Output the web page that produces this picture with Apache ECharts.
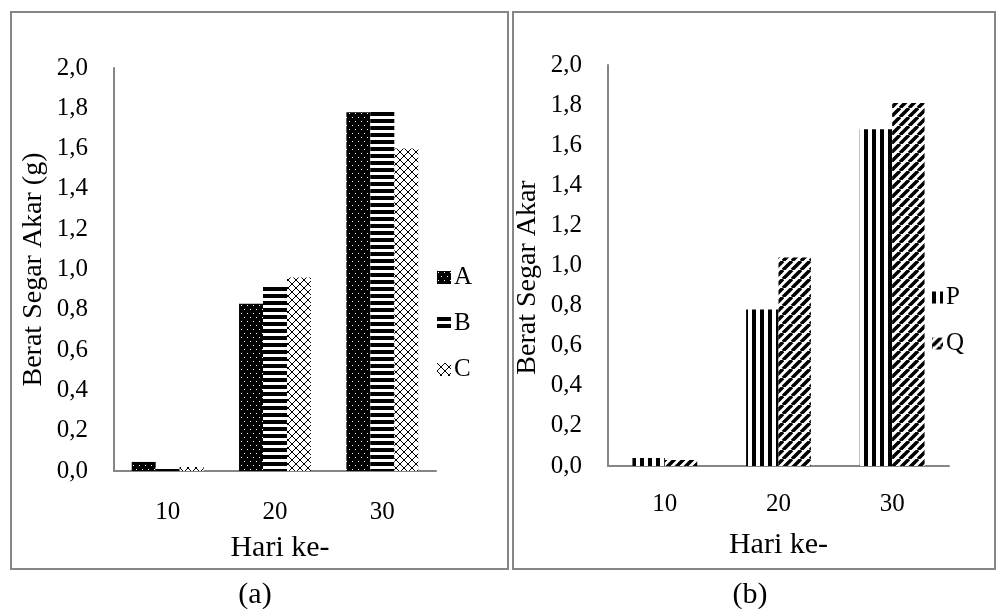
<!DOCTYPE html>
<html><head><meta charset="utf-8">
<script src="https://cdn.jsdelivr.net/npm/echarts@6/dist/echarts.min.js"></script>
<style>html,body{margin:0;padding:0;background:#fff}#c{width:997px;height:612px}</style>
</head><body><div id="c"></div>
<script>
const categories = ['10', '20', '30'];
const seriesA = [0.045, 0.83, 1.78];
const seriesB = [0.02, 0.92, 1.79];
const seriesC = [0.02, 0.96, 1.60];
const seriesP = [0.04, 0.78, 1.68];
const seriesQ = [0.03, 1.04, 1.81];
const namesLeft = ['A', 'B', 'C'];
const namesRight = ['P', 'Q'];
const yTitleLeft = 'Berat Segar Akar (g)';
const yTitleRight = 'Berat Segar Akar';
const xTitle = 'Hari ke-';
const captions = ['(a)', '(b)'];

const FONT = '"Liberation Serif", "Times New Roman", serif';
const AXIS_COLOR = '#868686';

function pat(w, h, draw) {
  const c = document.createElement('canvas');
  c.width = w; c.height = h;
  const g = c.getContext('2d');
  g.fillStyle = '#fff'; g.fillRect(0, 0, w, h);
  draw(g, w, h);
  return { image: c, repeat: 'repeat' };
}
const patA = pat(6, 8, g => { g.fillStyle = '#000'; g.fillRect(0, 0, 6, 8); g.fillStyle = '#fff'; g.fillRect(1, 1, 1, 1); g.fillRect(4, 5, 1, 1); });
const patB = pat(4, 7, g => { g.fillStyle = '#000'; g.fillRect(0, 0, 4, 4); });
const patC = pat(8, 8, g => { g.strokeStyle = '#000'; g.lineWidth = 1; g.beginPath(); g.moveTo(0, 0); g.lineTo(8, 8); g.moveTo(8, 0); g.lineTo(0, 8); g.stroke(); });
const patP = pat(8, 1, g => { g.fillStyle = '#000'; g.fillRect(0, 0, 4, 1); });
const patQ = pat(9, 9, g => { g.strokeStyle = '#000'; g.lineWidth = 3.5; g.beginPath(); g.moveTo(-9, 9); g.lineTo(0, 0); g.moveTo(0, 9); g.lineTo(9, 0); g.moveTo(9, 9); g.lineTo(18, 0); g.stroke(); });

const fmt = v => v.toFixed(1).replace('.', ',');

function xAxis(gridIndex, labelMargin, nameGap, namePad) {
  return {
    type: 'category', gridIndex, data: categories,
    axisTick: { show: false },
    axisLine: { lineStyle: { color: AXIS_COLOR, width: 2 } },
    axisLabel: { fontSize: 25, fontFamily: FONT, color: '#000', margin: labelMargin },
    name: xTitle, nameLocation: 'middle', nameGap,
    nameTextStyle: { fontSize: 30, fontFamily: FONT, color: '#000', padding: namePad }
  };
}
function yAxis(gridIndex, name, nameGap, namePad) {
  return {
    type: 'value', gridIndex, min: 0, max: 2, interval: 0.2,
    splitLine: { show: false },
    axisTick: { show: false },
    axisLine: { show: true, lineStyle: { color: AXIS_COLOR, width: 2 } },
    axisLabel: { fontSize: 25, fontFamily: FONT, color: '#000', margin: 26, formatter: fmt },
    name, nameLocation: 'middle', nameGap,
    nameTextStyle: { fontSize: 28, fontFamily: FONT, color: '#000', padding: namePad }
  };
}

const chart = echarts.init(document.getElementById('c'), null, { renderer: 'canvas' });
chart.setOption({
  backgroundColor: '#fff',
  animation: false,
  grid: [
    { left: 114, top: 68, width: 322, height: 403 },
    { left: 608, top: 65, width: 341, height: 401 }
  ],
  xAxis: [xAxis(0, 29, 62, [0, 0, 0, 10]), xAxis(1, 26, 64, [0, 0, 0, 0])],
  yAxis: [yAxis(0, yTitleLeft, 66, [0, 0, 0, 0]), yAxis(1, yTitleRight, 66, [0, 24, 0, 0])],
  legend: [
    { data: namesLeft, orient: 'vertical', left: 437, top: 265, padding: 0,
      itemWidth: 14, itemHeight: 13, itemGap: 21, icon: 'rect',
      textStyle: { fontSize: 25, fontFamily: FONT, color: '#000', padding: [0, 0, 0, -2] } },
    { data: namesRight, orient: 'vertical', left: 932, top: 285, padding: 0,
      itemWidth: 11, itemHeight: 12, itemGap: 21, icon: 'rect',
      textStyle: { fontSize: 25, fontFamily: FONT, color: '#000', padding: [0, 0, 0, -2] } }
  ],
  series: [
    { name: namesLeft[0], type: 'bar', xAxisIndex: 0, yAxisIndex: 0, data: seriesA, barGap: '0%', barCategoryGap: '33%', itemStyle: { color: patA } },
    { name: namesLeft[1], type: 'bar', xAxisIndex: 0, yAxisIndex: 0, data: seriesB, barGap: '0%', barCategoryGap: '33%', itemStyle: { color: patB } },
    { name: namesLeft[2], type: 'bar', xAxisIndex: 0, yAxisIndex: 0, data: seriesC, barGap: '0%', barCategoryGap: '33%', itemStyle: { color: patC } },
    { name: namesRight[0], type: 'bar', xAxisIndex: 1, yAxisIndex: 1, data: seriesP, barGap: '0%', barCategoryGap: '43%', itemStyle: { color: patP } },
    { name: namesRight[1], type: 'bar', xAxisIndex: 1, yAxisIndex: 1, data: seriesQ, barGap: '0%', barCategoryGap: '43%', itemStyle: { color: patQ } }
  ],
  graphic: [
    { type: 'rect', shape: { x: 11, y: 12, width: 497, height: 557 }, style: { fill: 'none', stroke: AXIS_COLOR, lineWidth: 2 }, silent: true },
    { type: 'rect', shape: { x: 513, y: 12, width: 482, height: 557 }, style: { fill: 'none', stroke: AXIS_COLOR, lineWidth: 2 }, silent: true },
    { type: 'text', x: 255, y: 595, style: { text: captions[0], fontSize: 30, fontFamily: FONT, fill: '#000', align: 'center', verticalAlign: 'middle' } },
    { type: 'text', x: 750, y: 595, style: { text: captions[1], fontSize: 30, fontFamily: FONT, fill: '#000', align: 'center', verticalAlign: 'middle' } }
  ]
});
</script>
</body></html>
